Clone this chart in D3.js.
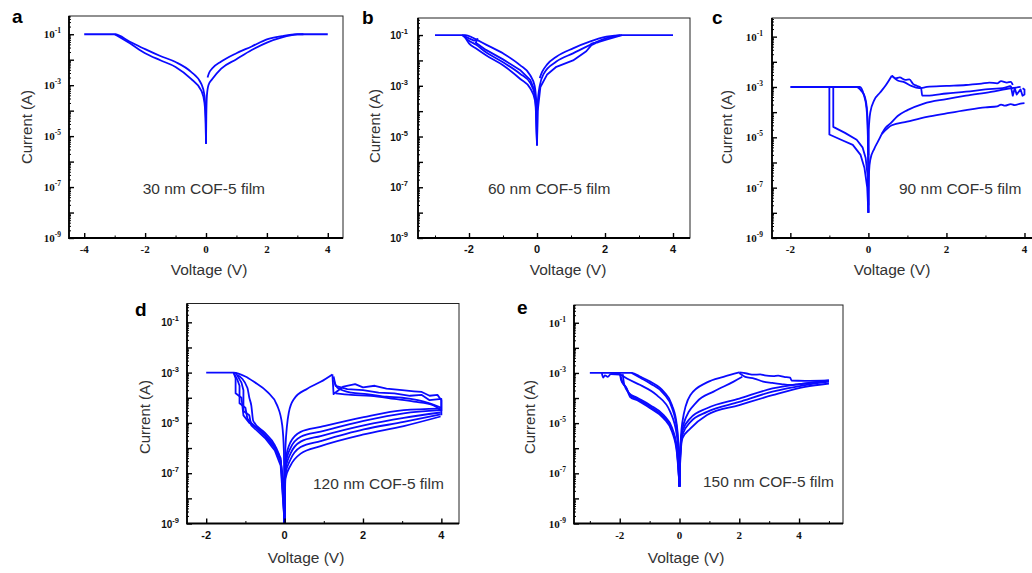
<!DOCTYPE html>
<html>
<head>
<meta charset="utf-8">
<script src="https://cdn.jsdelivr.net/npm/d3@7"></script>
<style>
  body { margin: 0; background: #fff; }
  svg { display: block; }
</style>
</head>
<body>
<div id="chart"></div>
<script>
// I-V sweeps of COF-5 films. Each branch is [voltage (V), current (A)].

// ---- a: 30 nm ----
const a_posOuter = [[0.05,2e-3],[0.1,3e-3],[0.2,4.5e-3],[0.5,8.5e-3],[1,1.8e-2],[1.5,3.3e-2],[2,6.3e-2],[2.5,8.5e-2],[3,0.1],[4,0.1]];
const a_posInner = [[0,5e-6],[0.01,6e-5],[0.03,4e-4],[0.08,1e-3],[0.2,1.7e-3],[0.5,4.5e-3],[1,1.05e-2],[1.5,2.4e-2],[2,4.7e-2],[2.5,7.5e-2],[3,9.8e-2],[3.2,0.1]];
const a_negOuter = [[-4,0.1],[-3,0.1],[-2.5,5.1e-2],[-2,2.6e-2],[-1.5,1.4e-2],[-1,8.1e-3],[-0.5,3.4e-3],[-0.15,1.1e-3],[-0.05,4e-4],[-0.01,5e-5],[0,5e-6]];
const a_negInner = [[-3,0.1],[-2.5,4.4e-2],[-2,1.8e-2],[-1.5,9.5e-3],[-1,5.2e-3],[-0.5,1.8e-3],[-0.15,6e-4],[-0.05,2e-4],[-0.01,3e-5],[0,5e-6]];

// ---- b: 60 nm ----
const b_negUpper = [[-3,0.1],[-2.1,0.1],[-1.9,8e-2],[-1.75,6.3e-2],[-1.5,4.2e-2],[-1,1.9e-2],[-0.5,6.5e-3],[-0.2,2.6e-3],[-0.07,1e-3],[-0.02,2e-4],[0,4.5e-6]];
const b_negBand1 = [[-2.2,0.1],[-2,7.4e-2],[-1.85,6e-2],[-1.75,7e-2],[-1.8,5e-2],[-1.5,2.6e-2],[-1,1.1e-2],[-0.5,4.2e-3],[-0.2,1.7e-3],[-0.06,6e-4],[-0.02,1e-4],[0,4.5e-6]];
const b_negBand2 = [[-2.2,0.1],[-2,6e-2],[-1.8,4.2e-2],[-1.5,2.1e-2],[-1,8.5e-3],[-0.5,3e-3],[-0.2,1.3e-3],[-0.06,4e-4],[-0.02,6e-5],[0,4.5e-6]];
const b_negBand3 = [[-2.15,0.1],[-2,4.7e-2],[-1.8,3e-2],[-1.5,1.6e-2],[-1,6.5e-3],[-0.5,1.9e-3],[-0.2,8e-4],[-0.06,2.7e-4],[-0.02,4e-5],[0,4.5e-6]];
const b_posUpper = [[0.08,2e-3],[0.15,3.5e-3],[0.3,7e-3],[0.57,1.4e-2],[1.06,3e-2],[1.55,5.5e-2],[2.04,8.6e-2],[2.5,0.1],[4,0.1]];
const b_posMid = [[0,4.5e-6],[0.02,2e-4],[0.08,1e-3],[0.2,3e-3],[0.57,9e-3],[1.06,1.9e-2],[1.55,4e-2],[2.04,7.5e-2],[2.45,0.1]];
const b_posLower = [[0,4.5e-6],[0.02,1e-4],[0.1,9e-4],[0.3,2.8e-3],[0.57,5.6e-3],[1.06,1e-2],[1.45,2.3e-2],[1.6,4e-2],[1.75,5e-2],[1.6,4.6e-2],[1.8,5.2e-2],[2.04,6.6e-2],[2.5,0.1]];

// ---- c: 90 nm ----
const c_compliance = [[-2,1e-3],[-0.3,1e-3],[-0.18,7e-4],[-0.09,4e-4],[-0.04,1.5e-4],[-0.015,2e-5],[0,1e-8]];
const c_compliance2 = [[-1,1e-3],[-0.22,1e-3],[-0.12,5e-4],[-0.05,1.5e-4],[-0.02,3e-5],[0,2e-6]];
const c_drop1 = [[-1,1e-3],[-1,1.3e-5],[-0.7,8e-6],[-0.4,5e-6],[-0.2,2e-6],[-0.1,6e-7],[-0.03,1e-7],[0,1e-8]];
const c_drop2 = [[-0.9,1e-3],[-0.9,2.6e-5],[-0.6,1.5e-5],[-0.3,8e-6],[-0.15,4e-6],[-0.07,1.5e-6],[-0.02,3e-7],[0,2e-8]];
const c_rise = [[0,1e-8],[0.01,2e-5],[0.05,1e-4],[0.15,3e-4],[0.3,6e-4],[0.45,1.2e-3],[0.6,2.8e-3]];
const c_noisyA = [[0.6,2.8e-3],[0.7,2.2e-3],[0.8,2.4e-3],[0.95,1.9e-3],[1.05,2e-3],[1.15,1.3e-3],[1.25,1.1e-3],[1.35,9e-4],[1.38,4.5e-4],[1.5,4.5e-4],[2,5.5e-4],[2.5,6.5e-4],[3,8e-4],[3.5,9.5e-4],[3.65,1.1e-3]];
const c_noisyB = [[0.6,2.8e-3],[0.75,1.8e-3],[0.9,1.6e-3],[1.1,1.1e-3],[1.3,9e-4],[1.5,1e-3],[2,1.1e-3],[2.5,1.2e-3],[2.9,1.35e-3],[3.1,1.5e-3],[3.3,1.4e-3],[3.4,1.7e-3],[3.55,1.5e-3],[3.65,1.6e-3],[3.7,1.2e-3]];
const c_kinkRise = [[0,1e-8],[0.02,5e-7],[0.05,1.3e-6],[0.15,3.5e-6],[0.25,7e-6],[0.34,1.35e-5]];
const c_mid = [[0.34,1.35e-5],[0.45,2.5e-5],[0.56,3.5e-5],[0.75,7e-5],[1,1.2e-4],[1.42,2.2e-4],[2,3.3e-4],[2.5,4.5e-4],[3.14,6.4e-4],[3.65,8.9e-4],[3.9,1e-3]];
const c_low = [[0.34,1.35e-5],[0.6,3e-5],[0.99,4.2e-5],[1.5,6.5e-5],[2,8.9e-5],[2.5,1.2e-4],[3,1.55e-4],[3.3,1.7e-4],[3.4,2e-4],[3.5,1.8e-4],[3.65,2.1e-4],[3.75,1.9e-4],[3.9,2.2e-4],[4,2.3e-4]];
const c_endNoise = [[3.65,1.1e-3],[3.7,4.5e-4],[3.75,9e-4],[3.8,5e-4],[3.9,8e-4],[3.95,4.5e-4],[4,5e-4],[4,8e-4],[3.95,9e-4]];

// ---- d: 120 nm ----
const d_upperV = [[-2,1e-3],[-1.3,1e-3],[-1,7e-4],[-0.78,4.3e-4],[-0.44,1.7e-4],[-0.19,5e-5],[-0.06,8e-6],[-0.017,7e-7],[0,1e-9]];
const d_upperRise = [[0,1e-9],[0.02,1e-6],[0.11,2.7e-5],[0.24,9e-5],[0.58,2.3e-4],[0.92,4.3e-4],[1.22,8.5e-4]];
const d_stepA = [[-1.3,1e-3],[-1.2,5e-4],[-1.15,3e-4],[-1.15,6e-5],[-1,4e-5],[-0.95,1.5e-5],[-0.85,1e-5],[-0.5,3e-6],[-0.25,1e-6],[-0.1,3e-7],[-0.03,5e-8],[0,1e-9]];
const d_stepB = [[-1.25,1e-3],[-1.1,4e-4],[-1.05,2e-4],[-1.05,3e-5],[-0.9,2e-5],[-0.85,8e-6],[-0.5,2.5e-6],[-0.25,8e-7],[-0.1,2e-7],[0,1e-9]];
const d_stepC = [[-1.2,8e-4],[-0.95,2.5e-4],[-0.9,1e-4],[-0.85,5e-5],[-0.8,1.2e-5],[-0.5,4e-6],[-0.25,1.3e-6],[-0.1,3e-7],[0,1e-9]];
const d_stepD = [[-1.3,1e-3],[-1.25,6e-4],[-1.25,1.5e-4],[-1.1,1e-4],[-1.05,2e-5],[-0.9,1e-5],[-0.6,5e-6],[-0.3,1.5e-6],[-0.1,4e-7],[0,1e-9]];
const d_noisy1 = [[1.22,8.5e-4],[1.25,1.4e-4],[1.5,2.8e-4],[1.8,3.5e-4],[2,2.6e-4],[2.3,3e-4],[2.6,2.3e-4],[3,2e-4],[3.3,1.8e-4],[3.5,1.7e-4],[3.7,1.2e-4],[3.9,1.3e-4],[4,8e-5],[4,2e-5]];
const d_noisy2 = [[1.25,7e-4],[1.3,3e-4],[1.6,2.2e-4],[2,2e-4],[2.4,1.6e-4],[2.8,1.5e-4],[3.2,1.2e-4],[3.5,1.3e-4],[3.7,8e-5],[4,9e-5],[4,3e-5]];
const d_noisy3 = [[1.25,5e-4],[1.35,2.5e-4],[1.7,1.6e-4],[2.1,1.4e-4],[2.6,1.1e-4],[3,1e-4],[3.4,8e-5],[3.7,6e-5],[4,4e-5]];
const d_noisy4 = [[1.3,1.5e-4],[1.7,1.3e-4],[2.2,1.2e-4],[2.8,9e-5],[3.3,7e-5],[3.8,5e-5],[4,3e-5]];
const d_low1 = [[0,1e-9],[0.02,3e-7],[0.15,1.7e-6],[0.41,4.4e-6],[0.92,6.9e-6],[2.02,1.7e-5],[3.04,3.2e-5],[3.98,3.7e-5]];
const d_low2 = [[0,1e-9],[0.02,2e-7],[0.15,1e-6],[0.41,2.8e-6],[0.92,4.5e-6],[2.02,1.2e-5],[3.04,2.4e-5],[3.98,3.2e-5]];
const d_low3 = [[0,1e-9],[0.02,1.3e-7],[0.15,6e-7],[0.41,1.8e-6],[0.92,3e-6],[2.02,8e-6],[3.04,1.6e-5],[3.98,2.6e-5]];
const d_low4 = [[0,1e-9],[0.02,9e-8],[0.15,3.5e-7],[0.41,1.1e-6],[0.92,1.9e-6],[2.02,5.5e-6],[3.04,1.1e-5],[3.98,2.2e-5]];
const d_low5 = [[0,1e-9],[0.02,6e-8],[0.15,2e-7],[0.41,6e-7],[0.92,1.2e-6],[2.02,3.5e-6],[3.04,7.5e-6],[3.98,1.8e-5]];

// ---- e: 150 nm ----
const e_upperL = [[-3,1e-3],[-1.6,1e-3],[-1.3,7e-4],[-0.98,4.5e-4],[-0.53,1.8e-4],[-0.25,5.2e-5],[-0.09,8.3e-6],[-0.02,5e-7],[0,3e-8]];
const e_upperL2 = [[-1.6,1e-3],[-1.3,6.3e-4],[-0.98,3.8e-4],[-0.53,1.5e-4],[-0.25,4e-5],[-0.09,6e-6],[-0.02,4e-7],[0,3e-8]];
const e_midL = [[-2.05,1e-3],[-1.76,6e-4],[-1.31,3.3e-4],[-0.76,1.3e-4],[-0.31,2.8e-5],[-0.09,3.3e-6],[-0.02,3e-7],[0,3e-8]];
const e_lowL1 = [[-2.6,1e-3],[-2.55,6.5e-4],[-2.5,8e-4],[-2.4,7e-4],[-2.3,9e-4],[-2,8.5e-4],[-1.9,4e-4],[-1.78,2.5e-4],[-1.65,1.1e-4],[-1.4,8e-5],[-0.98,3.9e-5],[-0.53,1.55e-5],[-0.25,4.5e-6],[-0.09,7e-7],[0,3e-8]];
const e_lowL2 = [[-2.3,1e-3],[-2,9e-4],[-1.95,5e-4],[-1.8,2.8e-4],[-1.65,1.3e-4],[-1.4,9e-5],[-0.98,4.5e-5],[-0.53,1.8e-5],[-0.25,5.5e-6],[-0.09,9e-7],[0,3e-8]];
const e_lowL3 = [[-1.9,9e-4],[-1.85,3.5e-4],[-1.7,1.6e-4],[-1.4,1e-4],[-0.98,5.2e-5],[-0.53,2.1e-5],[-0.25,6.5e-6],[-0.09,1.1e-6],[0,3e-8]];
const e_upperR1 = [[0,3e-8],[0.02,5e-7],[0.09,1e-5],[0.36,1.3e-4],[0.92,4.2e-4],[1.47,7e-4],[2,1.05e-3]];
const e_upperR2 = [[0,3e-8],[0.03,5e-7],[0.12,8e-6],[0.58,7e-5],[1.14,1.8e-4],[1.81,4.5e-4],[2.1,7e-4]];
const e_noisyTop = [[2,1.05e-3],[2.25,9.5e-4],[2.48,8.5e-4],[2.7,8.8e-4],[2.85,8e-4],[3.14,7.5e-4],[3.3,7.8e-4],[3.5,7e-4],[3.7,6.5e-4],[3.75,5e-4],[4.2,4.8e-4],[5,5e-4]];
const e_noisy2 = [[2,1e-3],[2.2,7e-4],[2.5,6e-4],[2.8,4.5e-4],[3.1,4e-4],[3.4,3.6e-4],[3.7,3.3e-4],[4,3.6e-4],[5,4.8e-4]];
const e_lowR1 = [[0,3e-8],[0.03,1e-6],[0.1,5e-6],[0.36,1.55e-5],[0.92,3.9e-5],[2,9.5e-5],[3.11,2.4e-4],[4.2,3.8e-4],[5,5.1e-4]];
const e_lowR2 = [[0,3e-8],[0.03,7e-7],[0.1,3.5e-6],[0.36,1.1e-5],[0.92,2.8e-5],[2,7e-5],[3.11,1.8e-4],[4.2,3.3e-4],[5,4.5e-4]];
const e_lowR3 = [[0,3e-8],[0.03,5e-7],[0.1,2.5e-6],[0.36,6e-6],[0.92,2.1e-5],[2,5.2e-5],[3.11,1.3e-4],[4.2,2.8e-4],[5,3.8e-4]];

// ticks and labels
const xTicksA = [-4, -2, 0, 2, 4];
const xTicksRest = [-2, 0, 2, 4];
const yTickExps = [-1, -3, -5, -7, -9];
const panelLetters = ["a", "b", "c", "d", "e"];
const filmLabels = ["30 nm COF-5 film", "60 nm COF-5 film", "90 nm COF-5 film", "120 nm COF-5 film", "150 nm COF-5 film"];

const SANS = "'Liberation Sans', Arial, sans-serif";
const SERIF = "'Liberation Serif', 'Times New Roman', serif";
const blue = "#0a0aff";

const panels = [
    {left: 69, top: 16, width: 274, height: 222, xDomain: [-4.5, 4.5], yTop: 0.52, serif: true,
     xTicks: xTicksA, curves: [a_posOuter, a_posInner, a_negOuter, a_negInner],
     letterPos: [12, 23], yTitle: [27, 127], xTitle: [209, 275], note: [142.7, 194], labelGap: 8},
    {left: 418, top: 18, width: 272, height: 220, xDomain: [-3.5, 4.5], yTop: 0.47, serif: false,
     xTicks: xTicksRest, curves: [b_negUpper, b_negBand1, b_negBand2, b_negBand3, b_posUpper, b_posMid, b_posLower],
     letterPos: [362, 24], yTitle: [375, 126], xTitle: [568, 275], note: [488, 194], labelGap: 10},
    {left: 772, top: 18, width: 272, height: 220, xDomain: [-2.47, 4.5], yTop: 0.55, serif: true,
     xTicks: xTicksRest, curves: [c_compliance, c_compliance2, c_drop1, c_drop2, c_rise, c_noisyA, c_noisyB, c_kinkRise, c_mid, c_low, c_endNoise],
     letterPos: [712, 24], yTitle: [727, 127], xTitle: [892, 275], note: [899, 194], labelGap: 9},
    {left: 187, top: 303.5, width: 272, height: 220, xDomain: [-2.49, 4.45], yTop: 0.56, serif: false,
     xTicks: xTicksRest, curves: [d_upperV, d_upperRise, d_stepA, d_stepB, d_stepC, d_stepD, d_noisy1, d_noisy2, d_noisy3, d_noisy4, d_low1, d_low2, d_low3, d_low4, d_low5],
     letterPos: [135, 316], yTitle: [145, 417], xTitle: [306, 563], note: [313, 489], labelGap: 8},
    {left: 574, top: 305, width: 269, height: 218.5, xDomain: [-3.53, 5.47], yTop: 0.51, serif: true,
     xTicks: xTicksRest, curves: [e_upperL, e_upperL2, e_midL, e_lowL1, e_lowL2, e_lowL3, e_upperR1, e_upperR2, e_noisyTop, e_noisy2, e_lowR1, e_lowR2, e_lowR3],
     letterPos: [517, 314], yTitle: [530, 417], xTitle: [686, 563], note: [703, 487], labelGap: 8}
];

const svg = d3.select("#chart")
    .append("svg")
    .attr("width", 1032)
    .attr("height", 573);

panels.forEach((p, i) => drawPanel(p, i));

// smooth branches that run one way in V, keep steps / noise straight
function isMonotone(pts) {
    let up = true, down = true;
    for (let k = 1; k < pts.length; k++) {
        if (!(pts[k][0] > pts[k - 1][0])) up = false;
        if (!(pts[k][0] < pts[k - 1][0])) down = false;
    }
    return up || down;
}

function drawPanel(p, i) {
    const g = svg.append("g").attr("transform", `translate(${p.left},${p.top})`);
    const tickFont = p.serif ? SERIF : SANS;

    const x = d3.scaleLinear().domain(p.xDomain).range([0, p.width]);
    const y = d3.scaleLog().domain([1e-9, p.yTop]).range([p.height, 0]);

    // frame (top/right thin)
    g.append("rect")
        .attr("width", p.width)
        .attr("height", p.height)
        .attr("fill", "none")
        .attr("stroke", "#222")
        .attr("stroke-width", 1);

    const smooth = d3.line().x(d => x(d[0])).y(d => y(d[1])).curve(d3.curveMonotoneX);
    const straight = d3.line().x(d => x(d[0])).y(d => y(d[1]));

    g.append("g")
        .selectAll("path")
        .data(p.curves)
        .enter()
        .append("path")
        .attr("d", d => isMonotone(d) ? smooth(d) : straight(d))
        .attr("fill", "none")
        .attr("stroke", blue)
        .attr("stroke-width", 1.8)
        .attr("stroke-linejoin", "round");

    // y ticks: decades and log minors, all pointing inward
    const decades = d3.range(-9, 0).map(e => Math.pow(10, e));
    const minors = [];
    d3.range(-9, 0).forEach(e => {
        for (let m = 2; m <= 9; m++) {
            const v = m * Math.pow(10, e);
            if (v <= p.yTop) minors.push(v);
        }
    });

    g.append("g")
        .call(d3.axisLeft(y).tickValues(decades).tickSize(-5).tickFormat(""))
        .call(s => s.select(".domain").remove())
        .selectAll("line").attr("stroke-width", 1.4);
    g.append("g")
        .call(d3.axisLeft(y).tickValues(minors).tickSize(-2).tickFormat(""))
        .call(s => s.select(".domain").remove());

    // x ticks: majors + midpoints
    const xMinor = p.xTicks.map(v => v - 1).concat([p.xTicks[p.xTicks.length - 1] + 1])
        .filter(v => v > p.xDomain[0] && v < p.xDomain[1]);
    g.append("g")
        .attr("transform", `translate(0,${p.height})`)
        .call(d3.axisBottom(x).tickValues(p.xTicks).tickSize(-5).tickFormat(""))
        .call(s => s.select(".domain").remove())
        .selectAll("line").attr("stroke-width", 1.4);
    g.append("g")
        .attr("transform", `translate(0,${p.height})`)
        .call(d3.axisBottom(x).tickValues(xMinor).tickSize(-2.5).tickFormat(""))
        .call(s => s.select(".domain").remove());

    // thick left and bottom axis lines
    g.append("path")
        .attr("d", `M0,0V${p.height}H${p.width}`)
        .attr("fill", "none")
        .attr("stroke", "#000")
        .attr("stroke-width", 1.8);

    // y tick labels 10^n
    const yl = g.append("g")
        .attr("font-family", tickFont)
        .attr("font-weight", "bold")
        .attr("fill", "#111");
    yTickExps.forEach(e => {
        const t = yl.append("text")
            .attr("x", -p.labelGap)
            .attr("y", y(Math.pow(10, e)) + 4)
            .attr("text-anchor", "end")
            .style("font-size", p.serif ? "11px" : "10px");
        t.append("tspan").text("10");
        t.append("tspan")
            .attr("dy", -5)
            .style("font-size", "7.5px")
            .text(String(e));
    });

    // x tick labels
    g.append("g")
        .selectAll("text")
        .data(p.xTicks)
        .enter()
        .append("text")
        .attr("x", d => x(d))
        .attr("y", p.height + 15)
        .attr("text-anchor", "middle")
        .attr("font-family", tickFont)
        .attr("font-weight", "bold")
        .attr("fill", "#111")
        .style("font-size", "11px")
        .text(d => String(d));

    // Titles and labels
    svg.append("text")
        .attr("x", p.letterPos[0])
        .attr("y", p.letterPos[1])
        .attr("font-family", SANS)
        .attr("font-weight", "bold")
        .style("font-size", "19px")
        .text(panelLetters[i]);

    svg.append("text")
        .attr("transform", `translate(${p.yTitle[0]},${p.yTitle[1]}) rotate(-90)`)
        .attr("dy", "0.35em")
        .attr("text-anchor", "middle")
        .attr("font-family", SANS)
        .attr("fill", "#333")
        .style("font-size", "15px")
        .text("Current (A)");

    svg.append("text")
        .attr("x", p.xTitle[0])
        .attr("y", p.xTitle[1])
        .attr("text-anchor", "middle")
        .attr("font-family", SANS)
        .attr("fill", "#333")
        .style("font-size", "15.5px")
        .text("Voltage (V)");

    svg.append("text")
        .attr("x", p.note[0])
        .attr("y", p.note[1])
        .attr("font-family", SANS)
        .attr("fill", "#333")
        .style("font-size", "15.5px")
        .text(filmLabels[i]);
}
</script>
</body>
</html>
